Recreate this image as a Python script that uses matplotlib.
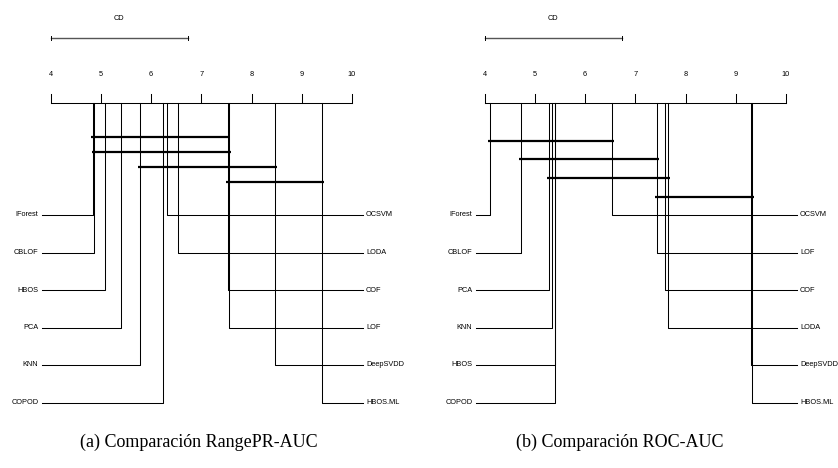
import matplotlib
matplotlib.use("Agg")
import matplotlib.pyplot as plt

# average ranks
names_a = ["IForest", "CBLOF", "HBOS", "PCA", "KNN", "COPOD",
           "OCSVM", "LODA", "COF", "LOF", "DeepSVDD", "HBOS.ML"]
ranks_a = [4.85, 4.87, 5.08, 5.39, 5.78, 6.24,
           6.31, 6.53, 7.54, 7.56, 8.47, 9.40]
cliques_a = [("IForest", "COF"), ("CBLOF", "LOF"),
             ("KNN", "DeepSVDD"), ("COF", "HBOS.ML")]

names_b = ["IForest", "CBLOF", "PCA", "KNN", "HBOS", "COPOD",
           "OCSVM", "LOF", "COF", "LODA", "DeepSVDD", "HBOS.ML"]
ranks_b = [4.11, 4.72, 5.29, 5.35, 5.39, 5.40,
           6.53, 7.43, 7.59, 7.64, 9.30, 9.32]
cliques_b = [("IForest", "OCSVM"), ("CBLOF", "LOF"),
             ("PCA", "LODA"), ("LOF", "HBOS.ML")]

cd_value = 2.73
captions = ["(a) Comparación RangePR-AUC", "(b) Comparación ROC-AUC"]

W, H = 838, 468
fig = plt.figure(figsize=(W / 100, H / 100), dpi=100)

LW = 0.75
SANS = "Liberation Sans"
FS = 5.3


def cd_diagram(ax, names, ranks, cliques, bar_y0, bar_dy):
    ax.set_ylim(H, 0)
    ax.axis("off")
    axis_y = 103.3
    # CD bar
    ax.plot([4, 4 + cd_value], [37.7, 37.7], color="#555555", lw=1.0)
    for xx in (4, 4 + cd_value):
        ax.plot([xx, xx], [35.5, 40], color="black", lw=0.7)
    ax.text(4 + cd_value / 2, 19, "CD", ha="center", va="center",
            fontsize=FS, family=SANS)
    # main axis
    ax.plot([4, 10], [axis_y, axis_y], color="black", lw=LW)
    for t in range(4, 11):
        ax.plot([t, t], [axis_y - 9.3, axis_y], color="black", lw=LW)
        ax.text(t, 75, str(t), ha="center", va="center",
                fontsize=FS, family=SANS)
    half = len(names) // 2
    for i, (n, r) in enumerate(zip(names, ranks)):
        if i < half:
            y = 215 + i * 37.5
            ax.plot([r, r, 3.82], [axis_y, y, y], color="black", lw=LW)
            ax.text(3.755, y, n, ha="right", va="center",
                    fontsize=FS, family=SANS)
        else:
            y = 215 + (i - half) * 37.5
            ax.plot([r, r, 10.22], [axis_y, y, y], color="black", lw=LW)
            ax.text(10.28, y, n, ha="left", va="center",
                    fontsize=FS, family=SANS)
    for k, (a, b) in enumerate(cliques):
        y = bar_y0 + k * bar_dy
        ra = ranks[names.index(a)]
        rb = ranks[names.index(b)]
        ax.plot([ra - 0.04, rb + 0.04], [y, y], color="black", lw=1.6,
                solid_capstyle="butt")


ax1 = fig.add_axes([0, 0, 0.5, 1])
ax1.set_xlim(4 - 50.7 / 50.22, 4 + 368.3 / 50.22)
cd_diagram(ax1, names_a, ranks_a, cliques_a, 136.7, 15.0)

ax2 = fig.add_axes([0.5, 0, 0.5, 1])
ax2.set_xlim(4 - 65.7 / 50.22, 4 + 353.3 / 50.22)
cd_diagram(ax2, names_b, ranks_b, cliques_b, 140.7, 18.67)

fig.text(199 / W, 1 - 442 / H, captions[0], ha="center", va="center",
         fontsize=13, family="Liberation Serif")
fig.text(620 / W, 1 - 442 / H, captions[1], ha="center", va="center",
         fontsize=13, family="Liberation Serif")

fig.savefig("out.png", dpi=100)
